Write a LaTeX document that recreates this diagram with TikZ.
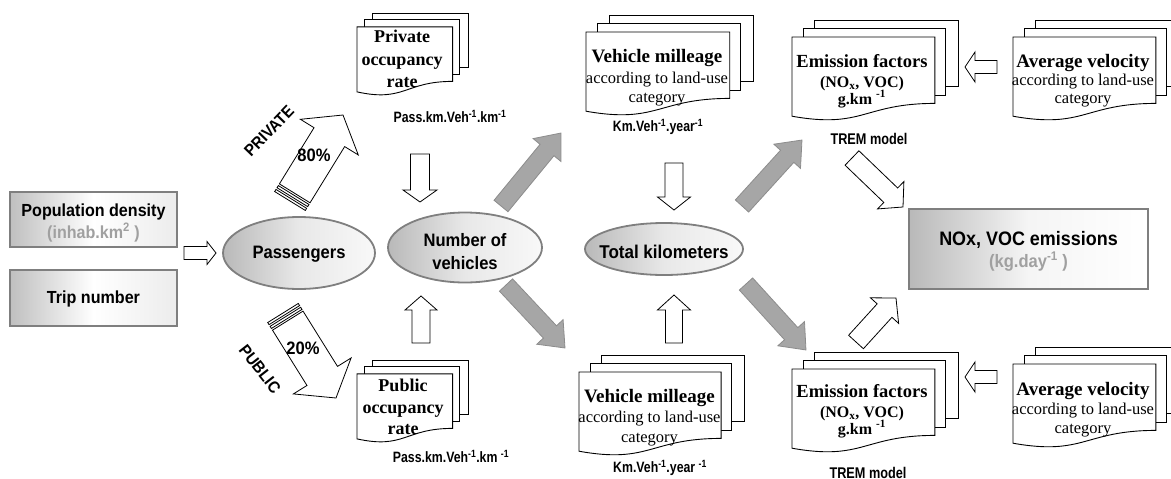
\documentclass[tikz,border=0pt]{standalone}
\usepackage{fontspec}
\setmainfont{Liberation Serif}
\newfontfamily\sansb[FakeStretch=0.92]{Liberation Sans}
\newfontfamily\sansn[FakeStretch=0.82]{Liberation Sans}
\usetikzlibrary{shapes.geometric}
\definecolor{bordergray}{HTML}{7F7F7F}
\definecolor{arrgray}{HTML}{A6A6A6}
\definecolor{arrgrayd}{HTML}{8C8C8C}
\definecolor{txtgray}{HTML}{A0A0A0}
\newcommand\fsz[1]{\fontsize{#1}{#1}\selectfont}
\makeatletter
% block arrow between two named coordinates
\newcommand\blockarrow[6][]{%
  \pgfmathanglebetweenpoints{\pgfpointanchor{#2}{center}}{\pgfpointanchor{#3}{center}}%
  \let\ba@ang\pgfmathresult
  \pgfpointdiff{\pgfpointanchor{#2}{center}}{\pgfpointanchor{#3}{center}}%
  \pgfmathveclen{\pgf@x}{\pgf@y}\let\ba@len\pgfmathresult
  \begin{scope}[shift={(#2)}, rotate=\ba@ang, x=1pt, y=1pt]
    \draw[#1] (0,-#4) -- ({\ba@len-#6},-#4) -- ({\ba@len-#6},-#5) -- (\ba@len,0)
      -- ({\ba@len-#6},#5) -- ({\ba@len-#6},#4) -- (0,#4) -- cycle;
  \end{scope}}
% striped block arrow
\newcommand\stripedarrow[6][]{%
  \pgfmathanglebetweenpoints{\pgfpointanchor{#2}{center}}{\pgfpointanchor{#3}{center}}%
  \let\ba@ang\pgfmathresult
  \pgfpointdiff{\pgfpointanchor{#2}{center}}{\pgfpointanchor{#3}{center}}%
  \pgfmathveclen{\pgf@x}{\pgf@y}\let\ba@len\pgfmathresult
  \begin{scope}[shift={(#2)}, rotate=\ba@ang, x=1pt, y=1pt]
    \draw[#1] (0,-#4) rectangle (2.5,#4);
    \draw[#1] (4.5,-#4) rectangle (7,#4);
    \draw[#1] (9,-#4) -- ({\ba@len-#6},-#4) -- ({\ba@len-#6},-#5) -- (\ba@len,0)
      -- ({\ba@len-#6},#5) -- ({\ba@len-#6},#4) -- (9,#4) -- cycle;
  \end{scope}}
\makeatother
% stack of three documents: name, X0, Y0, W, H
\newcommand\docstack[5]{%
  \begin{scope}[shift={(#2,#3)}, x=#4pt, y=-#5pt]
    \draw[docpage] (0.138,0) rectangle (1,0.666);
    \draw[docpage] (0.071,0.084) rectangle (0.926,0.752);
    \draw[docpage] (0,0.170) -- (0.861,0.170) -- (0.861,0.834)
      .. controls (0.430,0.834) and (0.430,1.090) .. (0,0.962) -- cycle;
    \coordinate (#1) at (0.43,0.5);
  \end{scope}}
\begin{document}
\begin{tikzpicture}[x=1pt,y=-1pt,
  docpage/.style={draw=black,line width=0.9pt,fill=white},
  hollow/.style={draw=black,line width=0.8pt,fill=white},
  grayarr/.style={draw=arrgrayd,line width=0.8pt,fill=arrgray},
  ellip/.style={ellipse,draw=bordergray,line width=1.8pt,left color=gray!55,right color=gray!5,middle color=gray!18,inner sep=0pt},
  gbox/.style={rectangle,draw=bordergray,line width=2.2pt,left color=gray!50,right color=gray!15,middle color=white,inner sep=0pt},
  lbl/.style={inner sep=0pt,anchor=base},
  serb/.style={lbl,font=\fsz{18}\bfseries},
  sert/.style={lbl,font=\fsz{19}\bfseries},
  serr/.style={lbl,font=\fsz{16.5}},
  sers/.style={lbl,font=\fsz{16}\bfseries},
  unit/.style={lbl,font=\sansn\bfseries\fsz{15}},
  sanl/.style={lbl,font=\sansb\bfseries\fsz{18}}]
\useasboundingbox (0,0) rectangle (1171,479);
\clip (0,0) rectangle (1171,479);

% document stacks
\docstack{prv}{357}{13}{111}{82}
\docstack{pub}{357}{360}{111}{82}
\docstack{vmt}{586}{15}{167}{100}
\docstack{vmb}{579}{355}{165}{100}
\docstack{eft}{792}{20}{166}{100}
\docstack{efb}{792}{352}{166}{100}
\docstack{avt}{1013}{20}{166}{100}
\docstack{avb}{1013}{347}{166}{100}

% boxes and ellipses
\node[gbox,minimum width=167pt,minimum height=55pt] (pd) at (93.5,219.5) {};
\node[gbox,minimum width=167pt,minimum height=56pt] (trip) at (93.5,298) {};
\node[gbox,minimum width=239pt,minimum height=80pt,left color=gray!55,right color=white,middle color=gray!8] (nox) at (1028.5,249) {};
\node[ellip,minimum width=152pt,minimum height=72pt] (pass) at (299,253) {};
\node[ellip,minimum width=154pt,minimum height=70pt] (nveh) at (465,247.5) {};
\node[ellip,minimum width=158pt,minimum height=52pt] (tkm) at (664,249) {};

% arrow end points
\coordinate (a1t) at (184,253);  \coordinate (a1h) at (216,253);
\coordinate (a2t) at (420,154);  \coordinate (a2h) at (420,202);
\coordinate (a3t) at (421,343);  \coordinate (a3h) at (421,296);
\coordinate (a4t) at (674,163);  \coordinate (a4h) at (674,210);
\coordinate (a5t) at (674,343);  \coordinate (a5h) at (674,295);
\coordinate (a6t) at (997,67);   \coordinate (a6h) at (965,67);
\coordinate (a7t) at (997,377);  \coordinate (a7h) at (965,377);
\coordinate (a8t) at (852,158);  \coordinate (a8h) at (903,207);
\coordinate (a9t) at (856,342);  \coordinate (a9h) at (896,298);
\coordinate (g1t) at (501,206);  \coordinate (g1h) at (561,133);
\coordinate (g2t) at (506,285);  \coordinate (g2h) at (565,348);
\coordinate (g3t) at (742,206);  \coordinate (g3h) at (802,140);
\coordinate (g4t) at (746,284);  \coordinate (g4h) at (806,350);
\coordinate (prt) at (290,201);  \coordinate (prh) at (343,115);
\coordinate (put) at (283,313);  \coordinate (puh) at (336,398);

% hollow arrows
\blockarrow[hollow]{a1t}{a1h}{6.5}{11.5}{9}
\blockarrow[hollow]{a2t}{a2h}{9.5}{17}{12}
\blockarrow[hollow]{a3t}{a3h}{9}{16}{14}
\blockarrow[hollow]{a4t}{a4h}{9}{16.5}{13}
\blockarrow[hollow]{a5t}{a5h}{8.5}{16.5}{15}
\blockarrow[hollow]{a6t}{a6h}{6.5}{15}{10}
\blockarrow[hollow]{a7t}{a7h}{6.5}{15}{10}
\blockarrow[hollow]{a8t}{a8h}{10}{19}{17}
\blockarrow[hollow]{a9t}{a9h}{10}{19}{17}
% gray arrows
\blockarrow[grayarr]{g1t}{g1h}{9}{18}{22}
\blockarrow[grayarr]{g2t}{g2h}{9}{18}{22}
\blockarrow[grayarr]{g3t}{g3h}{9}{18}{22}
\blockarrow[grayarr]{g4t}{g4h}{9}{18}{22}
% split arrows
\stripedarrow[hollow]{prt}{prh}{18}{34}{26}
\stripedarrow[hollow]{put}{puh}{18}{34}{26}

% texts in boxes / ellipses
\node[lbl,font=\sansb\bfseries\fsz{17.5}] (pd1) at (93.5,216) {Population density};
\node[lbl,font=\sansb\bfseries\fsz{17.5},text=txtgray] (pd2) at (93.5,238) {(inhab.km\textsuperscript{2} )};
\node[lbl,font=\sansb\bfseries\fsz{17.5}] (trip1) at (93.5,303) {Trip number};
\node[sanl] (pass1) at (299,258) {Passengers};
\node[sanl] (nveh1) at (465,246) {Number of};
\node[sanl] (nveh2) at (465,269.5) {vehicles};
\node[lbl,font=\sansb\bfseries\fsz{18.5}] (tkm1) at (664,258) {Total kilometers};
\node[lbl,font=\sansb\bfseries\fsz{19.5}] (nox1) at (1028.5,245) {NOx, VOC emissions};
\node[lbl,font=\sansb\bfseries\fsz{18},text=txtgray] (nox2) at (1028.5,267) {(kg.day\textsuperscript{-1} )};
\node[sanl] (p80) at (314,161.5) {80\%};
\node[sanl] (p20) at (303,354.5) {20\%};
\node[inner sep=0pt,font=\sansb\bfseries\fsz{16.5},rotate=46] (prvl) at (269,131) {PRIVATE};
\node[inner sep=0pt,font=\sansb\bfseries\fsz{16.5},rotate=-52] (publ) at (260,369) {PUBLIC};

% texts in documents
\node[serb] (prv1) at (402,42.5) {Private};
\node[serb] (prv2) at (402,65.5) {occupancy};
\node[serb] (prv3) at (402,87.5) {rate};
\node[unit] (prvu) at (450,122.5) {Pass.km.Veh\textsuperscript{-1}.km\textsuperscript{-1}};
\node[serb] (pub1) at (403,391.5) {Public};
\node[serb] (pub2) at (403,413.5) {occupancy};
\node[serb] (pub3) at (403,434.5) {rate};
\node[unit] (pubu) at (451,462.5) {Pass.km.Veh\textsuperscript{-1}.km \textsuperscript{-1}};

\node[sert] (vmt1) at (657,62.5) {Vehicle milleage};
\node[serr] (vmt2) at (657,83) {according to land-use};
\node[serr] (vmt3) at (657,102) {category};
\node[unit] (vmtu) at (658,131.5) {Km.Veh\textsuperscript{-1}.year\textsuperscript{-1}};
\node[sert] (vmb1) at (649.5,402.5) {Vehicle milleage};
\node[serr] (vmb2) at (649.5,422) {according to land-use};
\node[serr] (vmb3) at (649.5,442) {category};
\node[unit] (vmbu) at (660,472.5) {Km.Veh\textsuperscript{-1}.year \textsuperscript{-1}};

\node[lbl,font=\fsz{18.5}\bfseries] (eft1) at (862,67.5) {Emission factors};
\node[sers] (eft2) at (862,87) {(NO\textsubscript{x}, VOC)};
\node[sers] (eft3) at (862,104) {g.km \textsuperscript{-1}};
\node[unit,font=\sansn\bfseries\fsz{15.5}] (eftu) at (869,144.5) {TREM model};
\node[lbl,font=\fsz{18.5}\bfseries] (efb1) at (862,397.5) {Emission factors};
\node[sers] (efb2) at (862,417) {(NO\textsubscript{x}, VOC)};
\node[sers] (efb3) at (862,434) {g.km \textsuperscript{-1}};
\node[unit,font=\sansn\bfseries\fsz{15.5}] (efbu) at (868,478) {TREM model};

\node[sert] (avt1) at (1083,67.5) {Average velocity};
\node[serr] (avt2) at (1083,85) {according to land-use};
\node[serr] (avt3) at (1083,103) {category};
\node[sert] (avb1) at (1083,395.5) {Average velocity};
\node[serr] (avb2) at (1083,414) {according to land-use};
\node[serr] (avb3) at (1083,433) {category};
\end{tikzpicture}
\end{document}
